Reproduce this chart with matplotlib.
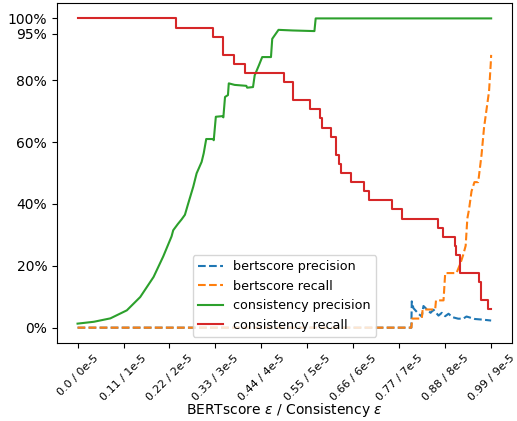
import matplotlib
matplotlib.use("Agg")
import matplotlib.pyplot as plt

# threshold index axis (BERTscore eps from 0 to 0.99)
tick_pos = [0.0, 0.11, 0.22, 0.33, 0.44, 0.55, 0.66, 0.77, 0.88, 0.99]
tick_labels = ["0.0 / 0e-5", "0.11 / 1e-5", "0.22 / 2e-5", "0.33 / 3e-5", "0.44 / 4e-5",
               "0.55 / 5e-5", "0.66 / 6e-5", "0.77 / 7e-5", "0.88 / 8e-5", "0.99 / 9e-5"]
y_ticks = [0, 20, 40, 60, 80, 95, 100]

# bertscore precision
bp_x = [0.0, 0.799, 0.800, 0.804, 0.816, 0.824, 0.828, 0.840, 0.845, 0.852, 0.864, 0.872,
        0.880, 0.888, 0.897, 0.911, 0.923, 0.931, 0.951, 0.969, 0.99]
bp_y = [0.0, 0.0, 8.5, 6.3, 4.5, 3.6, 7.0, 5.4, 4.8, 5.8, 3.9, 4.8,
        3.7, 4.5, 3.4, 2.9, 2.9, 3.6, 2.8, 2.6, 2.3]

# bertscore recall
br_x = [0.0, 0.799, 0.801, 0.824, 0.826, 0.856, 0.858, 0.876, 0.880, 0.907, 0.916, 0.923,
        0.929, 0.933, 0.937, 0.943, 0.950, 0.959, 0.967, 0.973, 0.979, 0.985, 0.989, 0.99]
br_y = [0.0, 0.0, 2.94, 2.94, 5.88, 5.88, 8.82, 8.82, 17.65, 17.65, 20.6, 23.5,
        26.5, 35.3, 38.2, 44.1, 47.06, 47.06, 55.9, 64.7, 70.6, 76.5, 85.3, 88.2]

# consistency precision
cp_x = [0.0, 0.039, 0.0785, 0.118, 0.150, 0.182, 0.205, 0.225, 0.229, 0.240, 0.249, 0.257,
        0.265, 0.277, 0.285, 0.297, 0.302, 0.308, 0.324, 0.326, 0.331, 0.347, 0.349, 0.353,
        0.360, 0.362, 0.376, 0.404, 0.406, 0.420, 0.424, 0.434, 0.442, 0.463, 0.466, 0.481,
        0.515, 0.567, 0.570, 0.99]
cp_y = [1.3, 1.9, 3.0, 5.6, 9.9, 16.4, 23.0, 29.5, 31.5, 33.5, 35.0, 36.5,
        40.2, 45.6, 49.9, 53.6, 56.4, 61.0, 61.0, 60.6, 68.2, 68.4, 68.0, 74.6,
        75.2, 79.0, 78.5, 78.2, 77.6, 77.8, 81.6, 84.8, 87.5, 87.5, 93.4, 96.3,
        96.1, 95.9, 100.0, 100.0]

# consistency recall (step changes)
cr_x = [0.0, 0.235, 0.324, 0.348, 0.374, 0.402, 0.493, 0.515, 0.557, 0.581, 0.586, 0.607,
        0.619, 0.626, 0.631, 0.655, 0.685, 0.697, 0.753, 0.777, 0.863, 0.875, 0.904, 0.907,
        0.915, 0.961, 0.965, 0.983, 0.99]
cr_y = [100.0, 97.06, 94.12, 88.24, 85.29, 82.35, 79.41, 73.53, 70.59, 67.65, 64.71, 61.76,
        55.88, 52.94, 50.0, 47.06, 44.12, 41.18, 38.24, 35.29, 32.35, 29.41, 26.47, 23.53,
        17.65, 14.71, 8.82, 5.88, 5.88]

fig = plt.figure(figsize=(5.17, 4.21), dpi=100)
ax = fig.add_axes([0.110, 0.185, 0.880, 0.808])

ax.plot(bp_x, bp_y, label="bertscore precision", color="tab:blue", linestyle="--")
ax.plot(br_x, br_y, label="bertscore recall", color="tab:orange", linestyle="--")
ax.plot(cp_x, cp_y, label="consistency precision", color="tab:green")
ax.plot(cr_x, cr_y, label="consistency recall", color="tab:red", drawstyle="steps-post")

ax.set_xticks(tick_pos)
ax.set_xticklabels(tick_labels, rotation=45, fontsize=8)
ax.set_yticks(y_ticks)
ax.set_yticklabels([f"{v}%" for v in y_ticks])
ax.set_xlabel(r"BERTscore $\epsilon$ / Consistency $\epsilon$", labelpad=-1)
ax.legend(loc="lower center", fontsize=9.2)

fig.savefig("out.png", dpi=100)
